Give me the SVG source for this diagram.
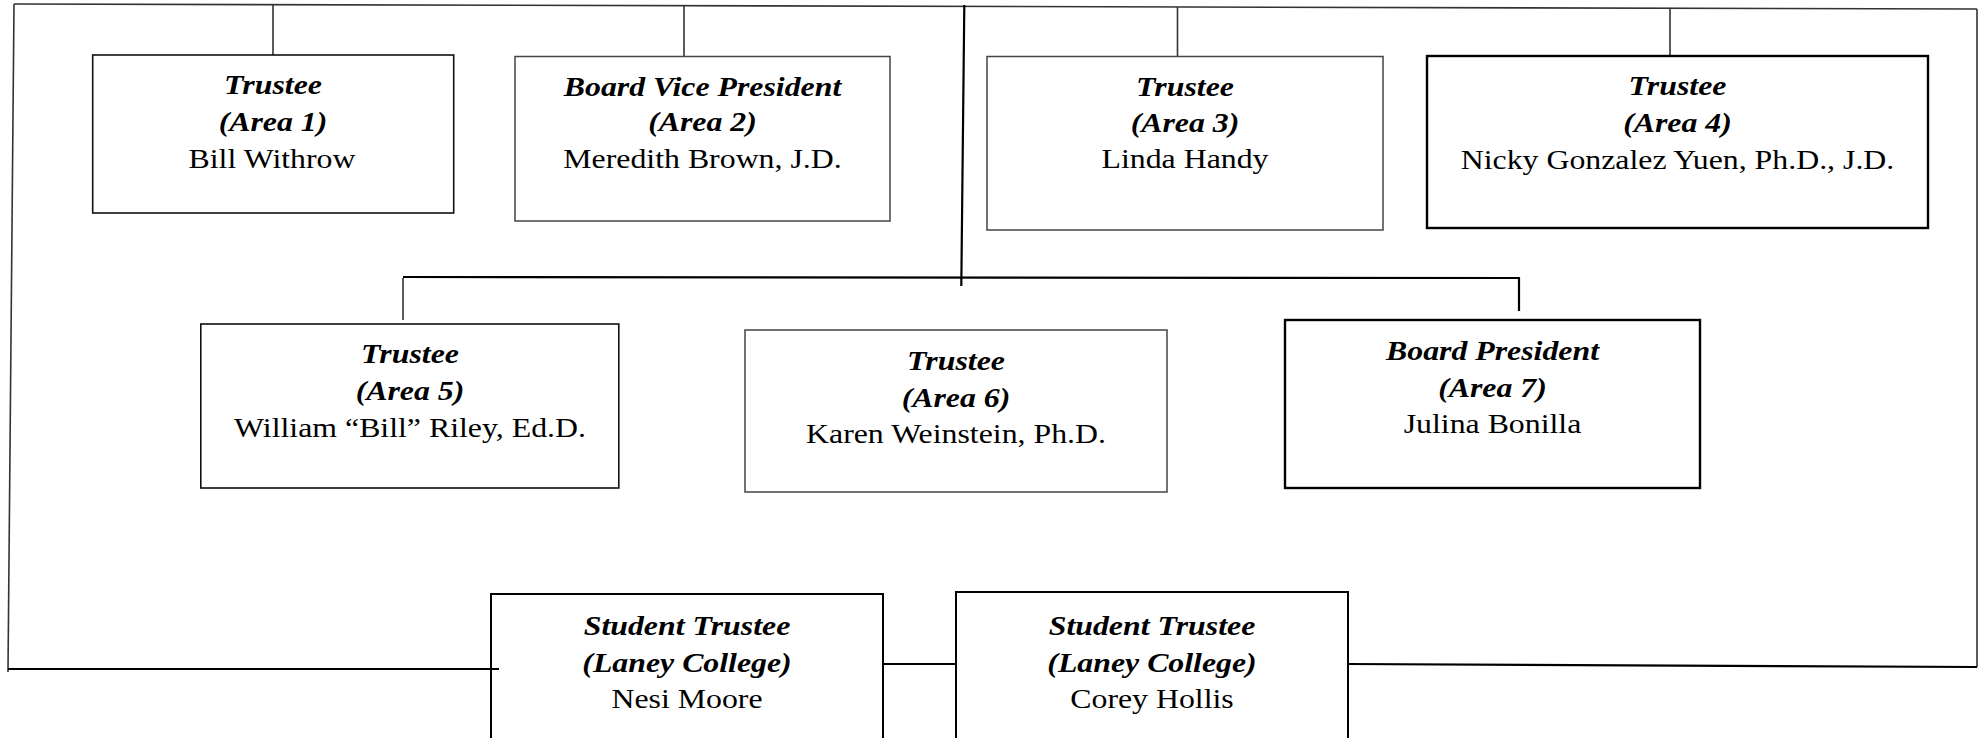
<svg xmlns="http://www.w3.org/2000/svg" width="1980" height="738" viewBox="0 0 1980 738">
<style>
text{font-family:"Liberation Serif","Times New Roman",serif;font-size:27.2px;fill:#000;text-anchor:middle}
.t{font-weight:bold;font-style:italic}
.box{fill:#fff;stroke:#111;stroke-width:1.6}
.thin{stroke:#444;stroke-width:1.5}
.thick{stroke:#000;stroke-width:2.4}
.ln{fill:none;stroke:#333;stroke-width:1.6}
.lnb{fill:none;stroke:#000;stroke-width:2.2}
</style>
<g id="connectors">
<path class="ln" d="M14,4 L1977,9"/>
<path class="ln" d="M14,4 L8,672"/>
<path class="ln" d="M1977,9 L1977,667"/>
<path class="lnb" d="M1348,664 L1977,667"/>
<path class="lnb" d="M883,664 L956,664"/>
<path class="ln" d="M273,5 L273,55"/>
<path class="ln" d="M684,6 L684,58"/>
<path class="ln" d="M1177.5,7 L1177.5,57"/>
<path class="ln" d="M1670,8 L1670,56"/>
<path class="lnb" d="M964.3,5 L961.3,286"/>
<path class="lnb" d="M403,277 L1519,278 L1519,311"/>
<path class="ln" d="M403,278 L403,320"/>
</g>
<g id="n1">
<rect class="box" x="92.7" y="55" width="361" height="158"/>
<text class="t" transform="translate(273,94) scale(1.17,1)">Trustee</text>
<text class="t" transform="translate(273,130.5) scale(1.17,1)">(Area 1)</text>
<text transform="translate(272,167.5) scale(1.17,1)">Bill Withrow</text>
</g>
<g id="n2">
<rect class="box thin" x="515" y="56.5" width="375" height="164.5"/>
<text class="t" transform="translate(702.5,95.5) scale(1.17,1)">Board Vice President</text>
<text class="t" transform="translate(702.5,131) scale(1.17,1)">(Area 2)</text>
<text transform="translate(702.5,168) scale(1.17,1)">Meredith Brown, J.D.</text>
</g>
<g id="n3">
<rect class="box thin" x="987" y="56.5" width="396" height="173.5"/>
<text class="t" transform="translate(1185,95.5) scale(1.17,1)">Trustee</text>
<text class="t" transform="translate(1185,131.5) scale(1.17,1)">(Area 3)</text>
<text transform="translate(1185,168) scale(1.17,1)">Linda Handy</text>
</g>
<g id="n4">
<rect class="box thick" x="1427" y="56" width="501" height="172"/>
<text class="t" transform="translate(1677.5,95) scale(1.17,1)">Trustee</text>
<text class="t" transform="translate(1677.5,131.5) scale(1.17,1)">(Area 4)</text>
<text transform="translate(1677.5,169) scale(1.17,1)">Nicky Gonzalez Yuen, Ph.D., J.D.</text>
</g>
<g id="n5">
<rect class="box" x="200.8" y="324" width="418" height="164"/>
<text class="t" transform="translate(410,363) scale(1.17,1)">Trustee</text>
<text class="t" transform="translate(410,400) scale(1.17,1)">(Area 5)</text>
<text transform="translate(410,436.5) scale(1.17,1)">William “Bill” Riley, Ed.D.</text>
</g>
<g id="n6">
<rect class="box thin" x="745" y="330" width="422" height="162"/>
<text class="t" transform="translate(956,369.5) scale(1.17,1)">Trustee</text>
<text class="t" transform="translate(956,406.5) scale(1.17,1)">(Area 6)</text>
<text transform="translate(956,443) scale(1.17,1)">Karen Weinstein, Ph.D.</text>
</g>
<g id="n7">
<rect class="box thick" x="1285" y="320" width="415" height="168"/>
<text class="t" transform="translate(1492.5,360) scale(1.17,1)">Board President</text>
<text class="t" transform="translate(1492.5,396.5) scale(1.17,1)">(Area 7)</text>
<text transform="translate(1492.5,433) scale(1.17,1)">Julina Bonilla</text>
</g>
<g id="n8">
<rect class="box thick" x="491" y="594" width="392" height="160" style="stroke-width:2"/>
<text class="t" transform="translate(687,635) scale(1.17,1)">Student Trustee</text>
<text class="t" transform="translate(687,671.5) scale(1.17,1)">(Laney College)</text>
<text transform="translate(687,708) scale(1.17,1)">Nesi Moore</text>
</g>
<g id="n9">
<rect class="box thick" x="956" y="592" width="392" height="160" style="stroke-width:2"/>
<text class="t" transform="translate(1152,635) scale(1.17,1)">Student Trustee</text>
<text class="t" transform="translate(1152,671.5) scale(1.17,1)">(Laney College)</text>
<text transform="translate(1152,708) scale(1.17,1)">Corey Hollis</text>
</g>
<g id="connector-overlay">
<path class="lnb" d="M8,669 L499,669"/>
</g>
</svg>
